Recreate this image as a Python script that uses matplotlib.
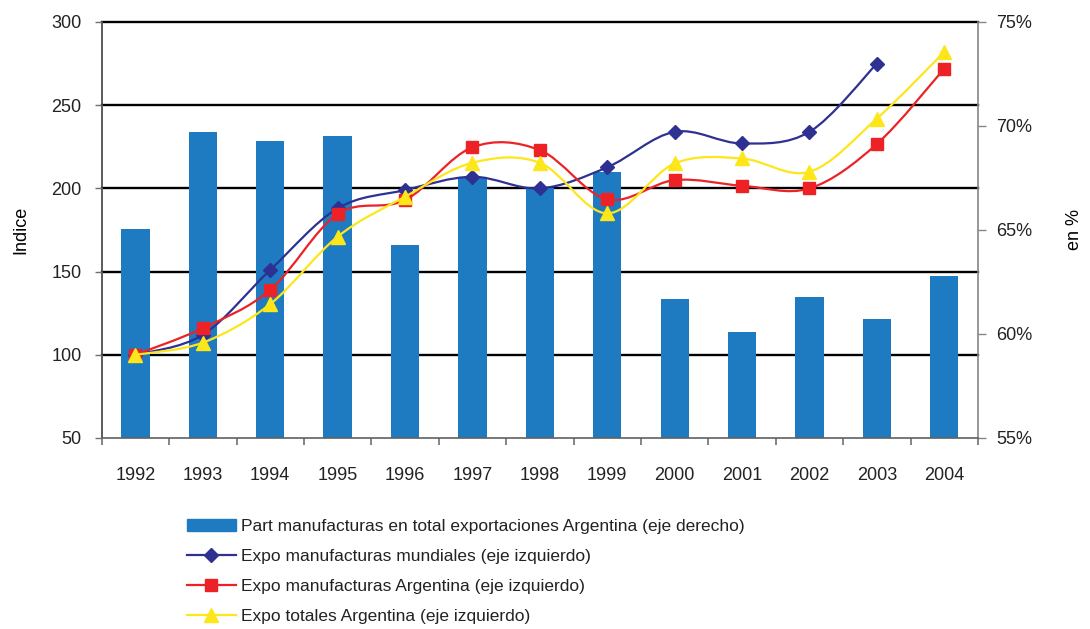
import numpy as np
import matplotlib
matplotlib.use("Agg")
import matplotlib.pyplot as plt
from matplotlib import font_manager
from matplotlib.path import Path
from matplotlib.patches import PathPatch, Patch
from matplotlib.lines import Line2D
from matplotlib.transforms import blended_transform_factory

# data
years = ["1992", "1993", "1994", "1995", "1996", "1997", "1998",
         "1999", "2000", "2001", "2002", "2003", "2004"]
part_manuf = [65.05, 69.7, 69.3, 69.5, 64.3, 67.55, 67.0,
              67.8, 61.7, 60.1, 61.8, 60.7, 62.8]          # % (right axis)
expo_mundial = [100, 112, 151, 188, 199, 207, 200,
                212.7, 234, 227, 234, 275, np.nan]          # index (left axis)
expo_manuf_arg = [100, 116, 139, 184.6, 193, 224.7, 223,
                  193.4, 205, 201.6, 200, 226.7, 272]
expo_tot_arg = [100, 107.3, 130.5, 171, 195, 215.4, 215.4,
                185, 215, 218, 210, 242, 282]

left_ticks = [50, 100, 150, 200, 250, 300]
right_ticks = [55, 60, 65, 70, 75]

names = {f.name for f in font_manager.fontManager.ttflist}
if "Liberation Sans Narrow" in names:
    fam, fs, lfs = ["Liberation Sans Narrow", "DejaVu Sans"], 15, 14
else:
    fam, fs, lfs = ["Liberation Sans", "DejaVu Sans"], 13, 12.5
plt.rcParams["font.family"] = fam
plt.rcParams["text.color"] = "#222222"


def smooth_path(xs, ys):
    # excel-like smoothed line through the points
    pts = np.column_stack([xs, ys])
    n = len(pts)
    verts = [pts[0]]
    codes = [Path.MOVETO]
    for i in range(n - 1):
        p0 = pts[i - 1] if i > 0 else pts[i]
        p1 = pts[i]
        p2 = pts[i + 1]
        p3 = pts[i + 2] if i + 2 < n else pts[i + 1]
        verts += [p1 + (p2 - p0) / 6, p2 - (p3 - p1) / 6, p2]
        codes += [Path.CURVE4] * 3
    return Path(verts, codes)


fig = plt.figure(figsize=(10.9, 6.29), dpi=100)
ax = fig.add_axes([101.7 / 1090, 1 - 438 / 629, 876.3 / 1090, 416 / 629])
ax2 = ax.twinx()

x = np.arange(len(years))
bar_col = "#1F7BC1"
ax.bar(x, part_manuf, width=0.42, color=bar_col, zorder=2)
ax.set_ylim(55, 75)
ax.set_xlim(-0.5, len(years) - 0.5)
ax2.set_ylim(50, 300)

# horizontal grid of the left axis, kept behind the bars
gtrans = blended_transform_factory(ax.transAxes, ax2.transData)
for v in left_ticks[1:]:
    ax.plot([0, 1], [v, v], transform=gtrans, color="black", lw=1.7,
            zorder=1, clip_on=False)

series = [
    (expo_mundial, "#2E3192", "D", 7.5, "Expo manufacturas mundiales (eje izquierdo)"),
    (expo_manuf_arg, "#EC2227", "s", 8.5, "Expo manufacturas Argentina (eje izquierdo)"),
    (expo_tot_arg, "#FDE619", "^", 10, "Expo totales Argentina (eje izquierdo)"),
]
handles = [Patch(color=bar_col,
                 label="Part manufacturas en total exportaciones Argentina (eje derecho)")]
z = 3
for vals, col, mk, ms, lab in series:
    vals = np.array(vals, dtype=float)
    ok = ~np.isnan(vals)
    ax2.add_patch(PathPatch(smooth_path(x[ok], vals[ok]), fill=False,
                            edgecolor=col, lw=1.6, zorder=z))
    ax2.plot(x[ok], vals[ok], ls="none", marker=mk, ms=ms, color=col,
             markeredgecolor=col, zorder=z + 0.5)
    handles.append(Line2D([], [], color=col, lw=1.6, marker=mk, ms=ms, label=lab))
    z += 1

# axes cosmetics
ax.yaxis.tick_right()
ax.yaxis.set_label_position("right")
ax2.yaxis.tick_left()
ax2.yaxis.set_label_position("left")
for s in ax2.spines.values():
    s.set_visible(False)
ax.spines["top"].set_visible(False)
ax.spines["left"].set_color("#404040")
ax.spines["bottom"].set_color("#606060")
ax.spines["right"].set_color("#858585")
for s in ["left", "bottom", "right"]:
    ax.spines[s].set_linewidth(1.2)

ax.set_xticks(x)
ax.set_xticklabels(years)
ax.set_xticks(np.arange(-0.5, len(years)), minor=True)
ax.tick_params(axis="x", which="major", length=0, pad=21, labelsize=fs,
               labelcolor="#222222")
ax.tick_params(axis="x", which="minor", length=5, width=1.2, color="#707070")

ax.set_yticks(right_ticks)
ax.set_yticklabels([f"{t}%" for t in right_ticks])
ax.tick_params(axis="y", length=5.5, width=1, color="#858585", pad=7.5,
               labelsize=fs, labelcolor="#222222")
ax2.set_yticks(left_ticks)
ax2.tick_params(axis="y", length=5, width=1, color="#707070", pad=9.5,
                labelsize=fs, labelcolor="#222222")

ax2.set_ylabel("Indice", fontsize=fs, labelpad=16)
ax.set_ylabel("en %", fontsize=fs, labelpad=24)

fig.legend(handles=handles, loc="upper left",
           bbox_to_anchor=(187 / 1090, 1 - 519 / 629), frameon=False,
           fontsize=lfs, handlelength=2.8, handletextpad=0.3,
           labelspacing=0.85, borderpad=0, borderaxespad=0)

fig.savefig("out.png", dpi=100)
